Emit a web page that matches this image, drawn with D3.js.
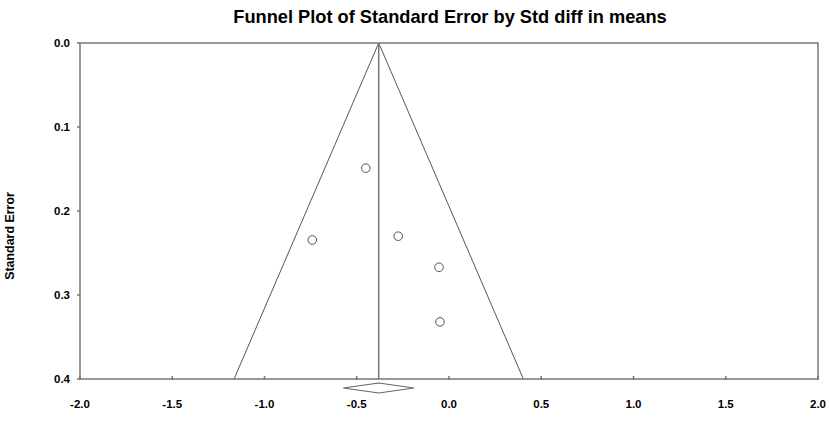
<!DOCTYPE html>
<html>
<head>
<meta charset="utf-8">
<script src="https://cdn.jsdelivr.net/npm/d3@7"></script>
<style>
  body { margin: 0; background: #fff; }
  svg text { font-family: "Liberation Sans", Arial, sans-serif; font-weight: bold; fill: #000; }
</style>
</head>
<body>
<div id="chart"></div>
<script>
// study effects (std diff in means) and standard errors
var effects = [-0.451, -0.741, -0.275, -0.054, -0.049];
var stdErrors = [0.149, 0.2345, 0.230, 0.267, 0.332];
var pooledMean = -0.381;
var pooledCI = [-0.573, -0.190];
var xTicks = [-2.0, -1.5, -1.0, -0.5, 0.0, 0.5, 1.0, 1.5, 2.0];
var yTicks = [0.0, 0.1, 0.2, 0.3, 0.4];

var width = 829, height = 428;
var margin = { top: 43, right: 11, bottom: 49, left: 80 };

var x = d3.scaleLinear().domain([-2, 2]).range([margin.left, width - margin.right]);
var y = d3.scaleLinear().domain([0, 0.4]).range([margin.top, height - margin.bottom]);

var svg = d3.select("#chart").append("svg")
    .attr("width", width)
    .attr("height", height);

var axisColor = "#777";

// title (condensed look like the original)
svg.append("text")
    .attr("transform", "translate(450,23) scale(0.96,1)")
    .attr("text-anchor", "middle")
    .style("font-size", "19px")
    .text("Funnel Plot of Standard Error by Std diff in means");

// y axis label
svg.append("text")
    .attr("transform", "translate(14,236) rotate(-90) scale(0.92,1)")
    .attr("text-anchor", "middle")
    .style("font-size", "13.5px")
    .text("Standard Error");

// frame
svg.append("rect")
    .attr("x", x(-2))
    .attr("y", y(0))
    .attr("width", x(2) - x(-2))
    .attr("height", y(0.4) - y(0))
    .attr("fill", "none")
    .attr("stroke", axisColor)
    .attr("stroke-width", 1.5);

// y ticks
svg.selectAll(".ytick")
    .data(yTicks)
    .enter().append("line")
    .attr("x1", x(-2) - 3)
    .attr("x2", x(-2))
    .attr("y1", function(d) { return y(d); })
    .attr("y2", function(d) { return y(d); })
    .attr("stroke", axisColor)
    .attr("stroke-width", 1.5);

svg.selectAll(".ylab")
    .data(yTicks)
    .enter().append("text")
    .attr("x", x(-2) - 10)
    .attr("y", function(d) { return y(d) + 4; })
    .attr("text-anchor", "end")
    .style("font-size", "11.5px")
    .text(function(d) { return d3.format(".1f")(d); });

// x ticks
svg.selectAll(".xtick")
    .data(xTicks)
    .enter().append("line")
    .attr("x1", function(d) { return x(d); })
    .attr("x2", function(d) { return x(d); })
    .attr("y1", y(0.4) - 3)
    .attr("y2", y(0.4) + 1)
    .attr("stroke", axisColor)
    .attr("stroke-width", 1.5);

svg.selectAll(".xlab")
    .data(xTicks)
    .enter().append("text")
    .attr("x", function(d) { return x(d); })
    .attr("y", y(0.4) + 29)
    .attr("text-anchor", "middle")
    .style("font-size", "11.5px")
    .text(function(d) { return d3.format(".1f")(d).replace("−", "-"); });

// funnel
var z = 1.96;
var funnel = [
    [pooledMean - z * 0.4, 0.4],
    [pooledMean, 0],
    [pooledMean + z * 0.4, 0.4]
];
svg.append("path")
    .attr("d", d3.line().x(function(d) { return x(d[0]); }).y(function(d) { return y(d[1]); })(funnel))
    .attr("fill", "none")
    .attr("stroke", "#555")
    .attr("stroke-width", 1);

// mean line
svg.append("line")
    .attr("x1", x(pooledMean))
    .attr("x2", x(pooledMean))
    .attr("y1", y(0))
    .attr("y2", y(0.4))
    .attr("stroke", "#777")
    .attr("stroke-width", 1.5);

// points
svg.selectAll(".dot")
    .data(effects)
    .enter().append("circle")
    .attr("cx", function(d) { return x(d); })
    .attr("cy", function(d, i) { return y(stdErrors[i]); })
    .attr("r", 4.3)
    .attr("fill", "#fff")
    .attr("stroke", "#555")
    .attr("stroke-width", 1);

// pooled diamond
var dy = y(0.4) + 9;
var diamond = [
    [pooledCI[0], 0], [pooledMean, -5], [pooledCI[1], 0], [pooledMean, 5]
];
svg.append("path")
    .attr("d", d3.line().x(function(d) { return x(d[0]); }).y(function(d) { return dy + d[1]; })(diamond) + "Z")
    .attr("fill", "none")
    .attr("stroke", "#666")
    .attr("stroke-width", 1.2);
</script>
</body>
</html>
